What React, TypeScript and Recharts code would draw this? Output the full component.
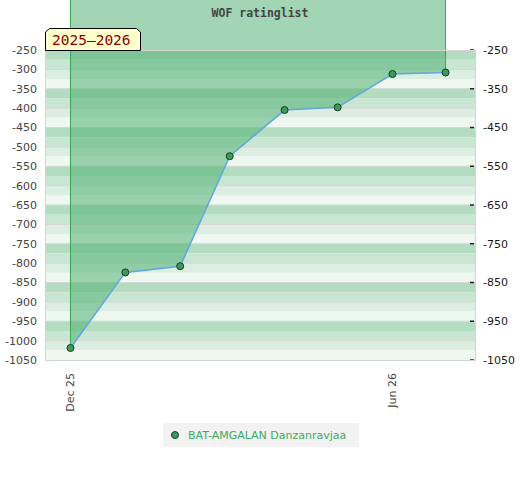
import React from 'react';
import {
  ComposedChart,
  Area,
  Line,
  XAxis,
  YAxis,
  ReferenceArea,
  ReferenceLine,
  Legend,
} from 'recharts';

// ---- data ----
const dates = [
  '2025-12-01',
  '2026-01-01',
  '2026-02-01',
  '2026-03-01',
  '2026-04-01',
  '2026-05-01',
  '2026-06-01',
  '2026-07-01',
];
const ratings = [-1019, -824, -808, -524, -405, -398, -312, -308];
const seriesName = 'BAT-AMGALAN Danzanravjaa';
const xTickDates = ['2025-12-01', '2026-06-01'];
const xTickLabels = ['Dec 25', 'Jun 26'];
const leftTicks = [
  -250, -300, -350, -400, -450, -500, -550, -600, -650, -700, -750, -800, -850,
  -900, -950, -1000, -1050,
];
const rightLabelTicks = [-250, -350, -450, -550, -650, -750, -850, -950, -1050];
const chartTitle = 'WOF ratinglist';
const seasonLabel = '2025–2026';

// ---- helpers ----
const DAY = 86400000;
const ORIGIN = Date.UTC(2025, 11, 1);
const toDay = (s: string) => {
  const [y, m, d] = s.split('-').map(Number);
  return Math.round((Date.UTC(y, m - 1, d) - ORIGIN) / DAY);
};

const data = dates.map((d, i) => ({ x: toDay(d), v: ratings[i] }));
const xTicks = xTickDates.map(toDay);
const xLabelOf = (v: number) => {
  const i = xTicks.indexOf(v);
  return i >= 0 ? xTickLabels[i] : '';
};

const Y_MIN = -1050;
const Y_MAX = -250;
const BAND_STEP = 25;
const bandColors = ['#b3dcc1', '#c9e6d3', '#dcede2', '#eff7f1'];
const bands: { y1: number; y2: number; c: string }[] = [];
for (let i = 0; Y_MAX - i * BAND_STEP > Y_MIN; i++) {
  bands.push({
    y1: Y_MAX - i * BAND_STEP,
    y2: Y_MAX - (i + 1) * BAND_STEP,
    c: bandColors[i % 4],
  });
}
// half a pixel in rating units (310 px for 800 units)
const HALF_PX = (Y_MAX - Y_MIN) / 310 / 2;

const first = data[0];
const last = data[data.length - 1];
const TOP_BASE = -100; // beyond the plot top, fill reaches image top

const FONT = 'DejaVu Sans, sans-serif';
const MONO = 'DejaVu Sans Mono, monospace';

const XTick = (props: any) => {
  const { x, payload } = props;
  return (
    <text
      transform={`translate(${x + 4}, 373) rotate(-90)`}
      textAnchor="end"
      fill="#444"
      fontSize={11}
      fontFamily={FONT}
    >
      {xLabelOf(payload.value)}
    </text>
  );
};

const RightTick = (props: any) => {
  const { x, y, payload } = props;
  const major = rightLabelTicks.includes(payload.value);
  return (
    <g>
      <line
        x1={major ? x - 13 : x - 11.5}
        x2={x - 9}
        y1={y}
        y2={y}
        stroke="#222"
        strokeWidth={1.5}
      />
      {major && (
        <text
          x={x}
          y={y}
          dy="0.355em"
          textAnchor="start"
          fill="#1a1a1a"
          fontSize={11}
          fontFamily={FONT}
        >
          {payload.value}
        </text>
      )}
    </g>
  );
};

const Overlay = () => (
  <svg
    width={520}
    height={480}
    style={{ position: 'absolute', left: 0, top: 0, pointerEvents: 'none' }}
  >
    <rect x={45.5} y={50.5} width={430} height={310} fill="none" stroke="#d4d4d4" strokeWidth={1} />
    <text
      x={260}
      y={16.5}
      textAnchor="middle"
      fill="#444"
      fontSize={11.5}
      fontWeight="bold"
      fontFamily={MONO}
    >
      {chartTitle}
    </text>
    <polygon
      points="45.5,50.5 45.5,32 49.5,28.5 136.5,28.5 140.5,32 140.5,50.5"
      fill="#ffffcc"
      stroke="#000"
      strokeWidth={1}
    />
    <text x={52} y={45} fill="#8b0000" fontSize={14.5} fontFamily={MONO}>
      {seasonLabel}
    </text>
  </svg>
);

const LegendContent = (props: any) => {
  const item = (props.payload || []).find((p: any) => p.value === seriesName);
  return (
    <div
      style={{
        width: 196,
        height: 24,
        background: '#f2f2f2',
        display: 'flex',
        alignItems: 'center',
        boxSizing: 'border-box',
        paddingLeft: 7,
        fontFamily: FONT,
        fontSize: 11,
        color: '#3dab5e',
      }}
    >
      <svg width={10} height={10}>
        <circle cx={5} cy={5} r={3.5} fill="#3b9c5a" stroke="#1c3a24" strokeWidth={1} />
      </svg>
      <span style={{ marginLeft: 8 }}>{item ? item.value : seriesName}</span>
    </div>
  );
};

export default function App() {
  return (
    <div style={{ position: 'absolute', left: 0, top: 0, width: 520, height: 480 }}>
      <ComposedChart
        width={520}
        height={480}
        data={data}
        margin={{ top: 50, right: 0, bottom: 90, left: 0 }}
        style={{ fontFamily: FONT }}
      >
        <XAxis
          dataKey="x"
          type="number"
          domain={[-14.41, 228.63]}
          ticks={xTicks}
          height={30}
          axisLine={false}
          tickLine={false}
          tick={<XTick />}
        />
        <YAxis
          yAxisId="left"
          type="number"
          domain={[Y_MIN, Y_MAX]}
          ticks={leftTicks}
          width={45}
          axisLine={false}
          tickLine={false}
          tick={{ fill: '#444', fontSize: 11, fontFamily: FONT }}
        />
        <YAxis
          yAxisId="right"
          orientation="right"
          type="number"
          domain={[Y_MIN, Y_MAX]}
          ticks={leftTicks}
          width={45}
          axisLine={false}
          tickLine={false}
          tick={<RightTick />}
        />
        {bands.map((b, i) => (
          <ReferenceArea
            key={`band-${i}`}
            yAxisId="left"
            y1={b.y1}
            y2={b.y2}
            fill={b.c}
            fillOpacity={1}
            stroke="none"
          />
        ))}
        {leftTicks.slice(1, -1).map((t) => (
          <ReferenceArea
            key={`grid-${t}`}
            yAxisId="left"
            y1={t + HALF_PX}
            y2={t - HALF_PX}
            fill="#d6d6d6"
            fillOpacity={1}
            stroke="none"
          />
        ))}
        <Area
          yAxisId="left"
          dataKey="v"
          type="linear"
          baseValue={TOP_BASE}
          fill="#4baf6f"
          fillOpacity={0.52}
          stroke="none"
          legendType="none"
          isAnimationActive={false}
          dot={false}
          activeDot={false}
        />
        <ReferenceLine
          yAxisId="left"
          segment={[
            { x: first.x, y: TOP_BASE },
            { x: first.x, y: first.v },
          ]}
          stroke="#33a852"
          strokeWidth={1}
          ifOverflow="visible"
        />
        <ReferenceLine
          yAxisId="left"
          segment={[
            { x: last.x, y: TOP_BASE },
            { x: last.x, y: last.v },
          ]}
          stroke="#33a852"
          strokeWidth={1}
          ifOverflow="visible"
        />
        <Line
          yAxisId="right"
          dataKey="v"
          type="linear"
          stroke="none"
          dot={false}
          activeDot={false}
          legendType="none"
          isAnimationActive={false}
        />
        <Line
          yAxisId="left"
          dataKey="v"
          name={seriesName}
          type="linear"
          stroke="#5fa8de"
          strokeWidth={1.5}
          dot={{ r: 3.5, fill: '#3b9c5a', stroke: '#1c3a24', strokeWidth: 1 }}
          activeDot={false}
          isAnimationActive={false}
        />
        <Legend
          verticalAlign="middle"
          align="center"
          layout="horizontal"
          wrapperStyle={{ left: 163, top: 423, width: 196 }}
          content={<LegendContent />}
        />
      </ComposedChart>
      <Overlay />
    </div>
  );
}
